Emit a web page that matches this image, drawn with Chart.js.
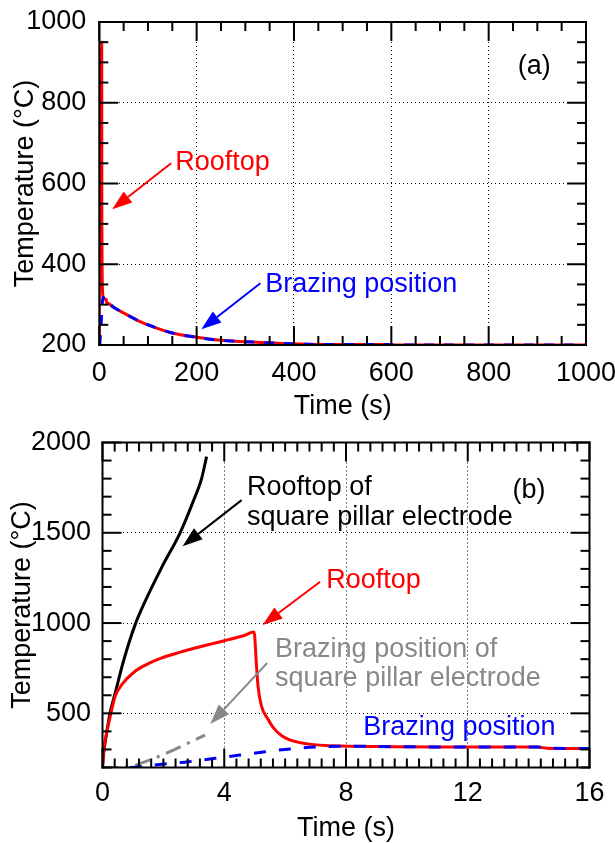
<!DOCTYPE html>
<html lang="en">
<head>
<meta charset="UTF-8">
<title>Temperature history: rooftop and brazing position</title>
<script src="https://cdn.jsdelivr.net/npm/chart.js"></script>
<style>
  html, body { margin: 0; padding: 0; background: #fff; overflow: hidden; }
  .panel { position: absolute; left: 0; width: 615px; height: 430px; }
  .panel canvas { position: absolute; left: 0; top: 0; }
  #panelA { top: 0; }
  #panelB { top: 418px; }
</style>
</head>
<body>
<div class="panel" id="panelA">
  <canvas id="chartA" width="615" height="430"></canvas>
  <canvas id="boxA" width="615" height="430"></canvas>
</div>
<div class="panel" id="panelB">
  <canvas id="chartB" width="615" height="430"></canvas>
  <canvas id="boxB" width="615" height="430"></canvas>
</div>

<script>
// ---- data: time (s), temperature (°C) ----
const rooftopTime = [0, 0.03, 0.11, 0.25, 0.42, 0.64, 1.07, 1.5, 1.95, 2.5, 3.04, 3.6, 4.13, 4.6, 4.98,
  5.06, 5.11, 5.22, 5.44, 5.61, 5.9, 6.45, 7.57, 9.2, 11, 14.3, 14.6, 16, 20, 30, 49, 84, 118, 152,
  200, 255, 323, 392, 460, 590, 600, 1000];
const rooftopTemp = [200, 280, 370, 480, 596, 660, 733, 775, 807, 836, 862, 885, 908, 928, 950,
  761, 651, 541, 467, 421, 375, 339, 320, 316, 314, 313, 307, 305, 302, 293, 280, 258, 242, 229,
  219, 211, 207, 203, 201, 201, 200, 200];

const brazingTime = [0.9, 1.07, 1.95, 2.83, 3.7, 4.52, 5.34, 6.16, 7.03, 8, 9.2, 11, 14.3, 14.6, 16,
  20, 30, 49, 84, 118, 152, 200, 255, 323, 392, 460, 590, 600, 1000];
const brazingTemp = [200, 202, 218, 232, 251, 269, 287, 303, 314, 318, 316, 314, 313, 307, 305,
  302, 293, 280, 258, 242, 229, 219, 211, 207, 203, 201, 201, 200, 200];

const pillarRoofTime = [0, 0.03, 0.14, 0.25, 0.42, 0.69, 1.07, 1.4, 1.95, 2.55, 2.98, 3.26, 3.42];
const pillarRoofTemp = [200, 265, 394, 504, 614, 790, 990, 1120, 1310, 1500, 1674, 1803, 1922];

const pillarBrazingTime = [0, 0.45, 0.9, 1.5, 2.0, 2.5, 2.94, 3.37];
const pillarBrazingTemp = [200, 200, 205, 238, 272, 310, 345, 379];

// tick labels
const xTicksA = [0, 200, 400, 600, 800, 1000];
const yTicksA = [200, 400, 600, 800, 1000];
const xTicksB = [0, 4, 8, 12, 16];
const yTicksB = [500, 1000, 1500, 2000];

const RED = '#ff0000', BLUE = '#0000ff', GRAY = '#888888', BLACK = '#000000';
const FONT = '"Liberation Sans", Arial, sans-serif';

function pts(xs, ys) {
  return xs.map((x, i) => ({ x: x, y: ys[i] }));
}

function majorTick(v, base, step) {
  const k = (v - base) / step;
  return Math.abs(k - Math.round(k)) < 1e-6;
}

// inward tick marks on all four sides, then the box, on an overlay canvas
function drawBox(chart, c, f) {
  const area = chart.chartArea;
  const sx = chart.scales.x, sy = chart.scales.y;
  const L = area.left, R = area.right, T = area.top, B = area.bottom;
  c.clearRect(0, 0, c.canvas.width, c.canvas.height);
  c.fillStyle = '#000000';
  const nx = Math.round((f.xMax - f.xMin) / f.xMinor);
  for (let i = 0; i <= nx; i++) {
    const v = f.xMin + i * f.xMinor;
    const px = sx.getPixelForValue(v);
    const len = majorTick(v, f.xMin, f.xMajor) ? 19 : 9;
    c.fillRect(px - 1, B - len, 2, len);
    c.fillRect(px - 1, T, 2, len);
  }
  const ny = Math.round((f.yMax - f.yMin) / f.yMinor);
  for (let i = 0; i <= ny; i++) {
    const v = f.yMin + i * f.yMinor;
    const py = sy.getPixelForValue(v);
    const len = majorTick(v, f.yBase, f.yMajor) ? 19 : 9;
    c.fillRect(L, py - 1, len, 2);
    c.fillRect(R - len, py - 1, len, 2);
  }
  c.fillRect(L - 1, T - 1, R - L + 2, 2);
  c.fillRect(L - 1, B - 1, R - L + 2, 2);
  c.fillRect(L - 1, T - 1, 2, B - T + 2);
  c.fillRect(R - 1, T - 1, 2, B - T + 2);
}

// text labels and arrows, placed in data units
function drawNotes(chart, n) {
  const ctx = chart.ctx;
  const xs = chart.scales.x, ys = chart.scales.y;
  ctx.save();
  ctx.setLineDash([]);
  ctx.font = '27px ' + FONT;
  ctx.textBaseline = 'middle';
  ctx.textAlign = 'left';
  n.texts.forEach(t => {
    ctx.fillStyle = t.color;
    ctx.fillText(t.text, xs.getPixelForValue(t.x), ys.getPixelForValue(t.y));
  });
  n.arrows.forEach(ar => {
    const x0 = xs.getPixelForValue(ar.from[0]), y0 = ys.getPixelForValue(ar.from[1]);
    const x1 = xs.getPixelForValue(ar.to[0]), y1 = ys.getPixelForValue(ar.to[1]);
    const ang = Math.atan2(y1 - y0, x1 - x0);
    const head = 20, half = 7;
    const bx = x1 - head * Math.cos(ang), by = y1 - head * Math.sin(ang);
    ctx.strokeStyle = ar.color;
    ctx.fillStyle = ar.color;
    ctx.lineWidth = 2;
    ctx.beginPath();
    ctx.moveTo(x0, y0);
    ctx.lineTo(bx, by);
    ctx.stroke();
    ctx.beginPath();
    ctx.moveTo(x1, y1);
    ctx.lineTo(bx + half * Math.sin(ang), by - half * Math.cos(ang));
    ctx.lineTo(bx - half * Math.sin(ang), by + half * Math.cos(ang));
    ctx.closePath();
    ctx.fill();
  });
  ctx.restore();
}

function noPad(s) {
  s.paddingLeft = 0; s.paddingRight = 0; s.paddingTop = 0; s.paddingBottom = 0;
}

function makePanel(id, boxId, p) {
  const box = {
    xMin: p.xMin, xMax: p.xMax, yMin: p.yMin, yMax: p.yMax,
    xMinor: p.xMinor, xMajor: p.xMajor, yMinor: p.yMinor, yMajor: p.yMajor, yBase: p.yBase
  };
  const overlay = document.getElementById(boxId).getContext('2d');
  const decor = {
    id: 'decor' + id,
    afterDraw(chart) {
      drawNotes(chart, p.notes);
      drawBox(chart, overlay, box);
    }
  };
  const tickFont = { family: FONT, size: 27 };
  return new Chart(document.getElementById(id), {
    type: 'line',
    data: { datasets: p.datasets },
    options: {
      responsive: false,
      animation: false,
      events: [],
      layout: { padding: p.padding },
      elements: { point: { radius: 0 }, line: { cubicInterpolationMode: 'monotone' } },
      scales: {
        x: {
          type: 'linear', min: p.xMin, max: p.xMax,
          afterBuildTicks: s => { s.ticks = p.xTicks.map(v => ({ value: v })); },
          afterFit: s => { s.height = p.xHeight; noPad(s); },
          grid: { color: BLACK, lineWidth: 1, drawTicks: false },
          border: { display: false, dash: [1, 3] },
          ticks: { color: BLACK, font: tickFont, padding: p.xPad, maxRotation: 0, autoSkip: false, callback: v => String(v) },
          title: { display: true, text: 'Time (s)', color: BLACK, font: tickFont, padding: 0 }
        },
        y: {
          type: 'linear', min: p.yMin, max: p.yMax,
          afterBuildTicks: s => { s.ticks = p.yTicks.map(v => ({ value: v })); },
          afterFit: s => { s.width = p.yWidth; noPad(s); },
          grid: { color: BLACK, lineWidth: 1, drawTicks: false },
          border: { display: false, dash: [1, 3] },
          ticks: { color: BLACK, font: tickFont, padding: p.yPad, autoSkip: false, callback: v => String(v) },
          title: { display: true, text: 'Temperature (°C)', color: BLACK, font: tickFont, padding: { top: p.yTitlePad, bottom: 0 } }
        }
      },
      plugins: {
        legend: { display: false },
        tooltip: { enabled: false }
      }
    },
    plugins: [decor]
  });
}

// (a) long time range
makePanel('chartA', 'boxA', {
  xMin: 0, xMax: 1000, yMin: 200, yMax: 1000,
  xTicks: xTicksA, yTicks: yTicksA,
  xMinor: 50, xMajor: 200, yMinor: 50, yMajor: 200, yBase: 200,
  padding: { left: 0, right: 29, top: 22, bottom: 6.8 },
  xHeight: 78.2, yWidth: 99.3, xPad: 12, yPad: 13, yTitlePad: 9,
  datasets: [
    { label: 'Brazing position', data: pts(brazingTime, brazingTemp), borderColor: BLUE, borderWidth: 3, borderDash: [10, 10], order: 0 },
    { label: 'Rooftop', data: pts(rooftopTime, rooftopTemp), borderColor: RED, borderWidth: 3, order: 1 }
  ],
  notes: {
    texts: [
      { text: 'Rooftop', x: 156, y: 651, color: RED },
      { text: 'Brazing position', x: 341, y: 349, color: BLUE },
      { text: '(a)', x: 860, y: 889, color: BLACK }
    ],
    arrows: [
      { from: [147.6, 650], to: [26.5, 536], color: RED },
      { from: [331, 353], to: [209.7, 239], color: BLUE }
    ]
  }
});

// (b) first 16 s
makePanel('chartB', 'boxB', {
  xMin: 0, xMax: 16, yMin: 200, yMax: 2000,
  xTicks: xTicksB, yTicks: yTicksB,
  xMinor: 0.4, xMajor: 4, yMinor: 100, yMajor: 500, yBase: 0,
  padding: { left: 0, right: 25.5, top: 24.5, bottom: 2.8 },
  xHeight: 77.7, yWidth: 102.5, xPad: 9.5, yPad: 11.5, yTitlePad: 6.5,
  datasets: [
    { label: 'Brazing position', data: pts(brazingTime, brazingTemp), borderColor: BLUE, borderWidth: 3, borderDash: [12, 13], order: 0 },
    { label: 'Rooftop', data: pts(rooftopTime, rooftopTemp), borderColor: RED, borderWidth: 3, order: 1 },
    { label: 'Brazing position of square pillar electrode', data: pts(pillarBrazingTime, pillarBrazingTemp), borderColor: GRAY, borderWidth: 3, borderDash: [16, 7, 3, 7], order: 2 },
    { label: 'Rooftop of square pillar electrode', data: pts(pillarRoofTime, pillarRoofTemp), borderColor: BLACK, borderWidth: 3, order: 3 }
  ],
  notes: {
    texts: [
      { text: 'Rooftop of', x: 4.75, y: 1753, color: BLACK },
      { text: 'square pillar electrode', x: 4.75, y: 1587, color: BLACK },
      { text: '(b)', x: 13.47, y: 1736, color: BLACK },
      { text: 'Rooftop', x: 7.35, y: 1238, color: RED },
      { text: 'Brazing position of', x: 5.67, y: 856, color: GRAY },
      { text: 'square pillar electrode', x: 5.67, y: 690, color: GRAY },
      { text: 'Brazing position', x: 8.57, y: 424, color: BLUE }
    ],
    arrows: [
      { from: [4.57, 1681], to: [2.63, 1426], color: BLACK },
      { from: [7.15, 1229], to: [5.26, 989], color: RED },
      { from: [5.41, 779], to: [3.54, 441], color: GRAY }
    ]
  }
});
</script>
</body>
</html>
